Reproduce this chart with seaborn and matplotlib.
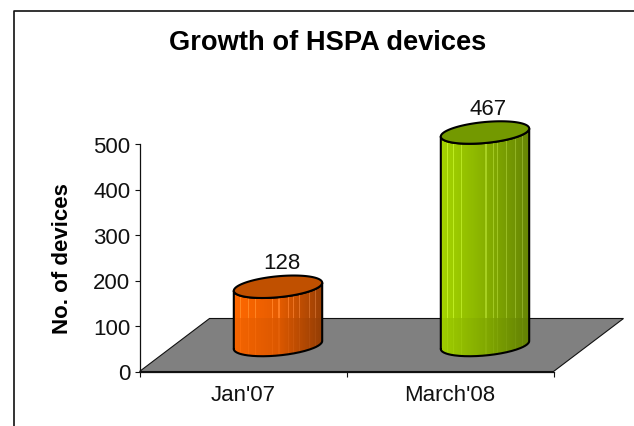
import numpy as np
import pandas as pd
import matplotlib
matplotlib.use("Agg")
import matplotlib.pyplot as plt
import seaborn as sns
from matplotlib.patches import Polygon
from matplotlib.transforms import Affine2D
from matplotlib.lines import Line2D

categories = ["Jan'07", "March'08"]
values = [128, 467]
y_ticks = [0, 100, 200, 300, 400, 500]
title = "Growth of HSPA devices"
ylabel = "No. of devices"

sns.set_theme(style="white")
plt.rcParams["font.family"] = ["Liberation Sans", "DejaVu Sans"]

W, H = 634, 427
fig = plt.figure(figsize=(W / 100, H / 100), dpi=100)
L, R, T, B = 139.5, 553.5, 145.0, 372.5
ax = fig.add_axes([L / W, 1 - B / H, (R - L) / W, (B - T) / H])
df = pd.DataFrame({"period": categories, "devices": values})
sns.barplot(data=df, x="period", y="devices", width=0.427, ax=ax, errorbar=None)
ax.set_xlim(-0.5, 1.5)
ax.set_ylim(0, 500)
ax.patch.set_visible(False)
sns.despine(ax=ax)
for s in ("left", "bottom"):
    ax.spines[s].set_linewidth(0.9)
    ax.spines[s].set_color("#111111")

px_x = (R - L) / 2.0
px_y = (B - T) / 500.0
depth_x, depth_y = 70.0, 53.0
floor = Polygon([(-0.5, 0), (1.5, 0), (1.5 + depth_x / px_x, depth_y / px_y),
                 (-0.5 + depth_x / px_x, depth_y / px_y)], closed=True,
                facecolor="#808080", edgecolor="#111111", linewidth=0.8,
                clip_on=False, zorder=1)
ax.add_patch(floor)

shift = Affine2D().translate(depth_x / 2, depth_y / 2)
tr = ax.transData + shift

palettes = [
    dict(left=(1.00, 0.41, 0.00), mid=(0.90, 0.36, 0.00), right=(0.60, 0.25, 0.02), top="#C05000",
         stripes=[0.07, 0.16, 0.24, 0.43, 0.50, 0.61, 0.67, 0.73, 0.85, 0.92]),
    dict(left=(0.65, 0.84, 0.00), mid=(0.53, 0.69, 0.00), right=(0.40, 0.52, 0.02), top="#739900",
         stripes=[0.07, 0.14, 0.23, 0.50, 0.58, 0.63, 0.73, 0.84, 0.92]),
]

t = np.linspace(0, 2 * np.pi, 181)
tilt, minor = 4.0 / px_y, 10.5 / px_y
outline = 1.5

for bar, pal in zip(ax.patches, palettes):
    bar.set_visible(False)
    x0, w, h = bar.get_x(), bar.get_width(), bar.get_height()
    cx = x0 + w / 2
    ex = lambda tt: cx + np.cos(tt) * w / 2
    ey = lambda tt, base: base + np.cos(tt) * tilt + np.sin(tt) * minor

    lo = np.linspace(np.pi, 2 * np.pi, 90)
    hi = lo[::-1]
    bx = np.r_[ex(lo), ex(hi)]
    by = np.r_[ey(lo, 0), ey(hi, h)]
    verts = np.c_[bx, by]
    body = Polygon(verts, closed=True, transform=tr, facecolor="none", edgecolor="none", zorder=2, clip_on=False)
    ax.add_patch(body)

    n = 176
    u = np.linspace(0, 1, n)
    base = np.zeros((1, n, 3))
    for k in range(3):
        base[0, :, k] = np.interp(u, [0, 0.5, 1], [pal["left"][k], pal["mid"][k], pal["right"][k]])
    c = base.copy()
    for s in pal["stripes"]:
        i = int(s * n)
        c[0, i:i + 2, :] = np.clip(c[0, i:i + 2, :] + 0.13, 0, 1)
    span_lo, span_hi = -2 * minor, h + 2 * minor
    im = ax.imshow(c, extent=[x0, x0 + w, span_lo, span_hi], aspect="auto", transform=tr,
                   interpolation="nearest", zorder=2.1)
    im.set_clip_box(fig.bbox)
    im.set_clip_path(body)

    # the part in front of the floor is a little darker and its stripes fade
    floor_y = depth_y / 2 / px_y
    front = base.copy() * 0.96
    for s in pal["stripes"]:
        i = int(s * n)
        front[0, i:i + 2, :] = np.clip(front[0, i:i + 2, :] + 0.03, 0, 1)
    im2 = ax.imshow(front, extent=[x0, x0 + w, span_lo, floor_y], aspect="auto", transform=tr,
                    interpolation="nearest", zorder=2.2)
    im2.set_clip_box(fig.bbox)
    im2.set_clip_path(body)

    ax.add_line(Line2D(np.r_[bx, bx[0]], np.r_[by, by[0]], transform=tr, color="black", lw=outline, zorder=3,
                       clip_on=False, solid_joinstyle="round"))
    cap = Polygon(np.c_[ex(t), ey(t, h)], closed=True, transform=tr, facecolor=pal["top"],
                  edgecolor="black", linewidth=outline, zorder=3.1, clip_on=False)
    ax.add_patch(cap)
    ax.text(cx, h, f"{int(h)}", transform=tr + Affine2D().translate(3.5, 19), ha="center", va="baseline",
            fontsize=16, color="#111111", zorder=4, clip_on=False)

ax.set_ylim(0, 500)
ax.set_xlim(-0.5, 1.5)
ax.set_yticks(y_ticks)
ax.set_xticks([-0.5, 0.5, 1.5])
ax.set_xticklabels([])
ax.set_xticks([0, 1], labels=categories, minor=True)
ax.tick_params(axis="y", which="major", left=True, length=3.3, width=0.8, color="#111111", labelsize=16,
               labelcolor="#111111", pad=3.2)
ax.tick_params(axis="x", which="major", bottom=True, length=3.3, width=0.8, color="#111111")
ax.tick_params(axis="x", which="minor", bottom=False, length=0, labelsize=16, labelcolor="#111111", pad=9)
ax.set_xlabel("")
ax.set_ylabel(ylabel, fontsize=16, fontweight="bold", color="black")
ax.yaxis.set_label_coords((73 - L) / (R - L), (B - 259) / (B - T))

fig.text(327.5 / W, 1 - 42.5 / H, title, ha="center", va="center", fontsize=19.6, fontweight="bold", color="black")

fig.add_artist(Line2D([13.5 / W, 13.5 / W, 1], [0, 1 - 11.8 / H, 1 - 11.8 / H], color="#111111", lw=1.2,
                      transform=fig.transFigure))

fig.savefig("out.png", dpi=100)
